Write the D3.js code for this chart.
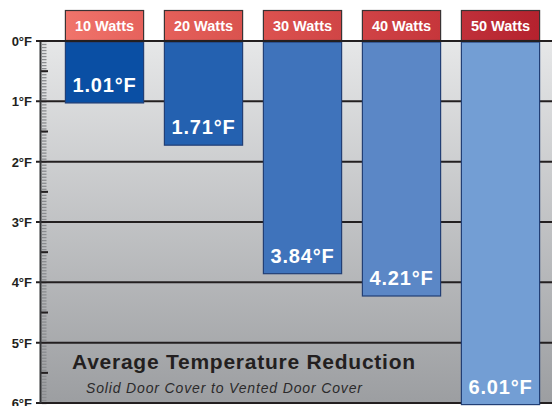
<!DOCTYPE html>
<html><head><meta charset="utf-8">
<script src="https://cdn.jsdelivr.net/npm/d3@7"></script>
<style>html,body{margin:0;padding:0;background:#fff;}svg{display:block;}</style>
</head><body>
<svg id="chart" width="552" height="406"></svg>
<script>
const categories = ["10 Watts", "20 Watts", "30 Watts", "40 Watts", "50 Watts"];
const values = [1.01, 1.71, 3.84, 4.21, 6.01];
const tickValues = [0, 1, 2, 3, 4, 5, 6];
const tickLabels = ["0°F", "1°F", "2°F", "3°F", "4°F", "5°F", "6°F"];
const title = "Average Temperature Reduction";
const subtitle = "Solid Door Cover to Vented Door Cover";

const barColors = ["#0a4fa4", "#2461b0", "#3f73bb", "#5b87c6", "#739ed4"];
const headerColorsL = ["#f0746b", "#e5605a", "#dc524f", "#d04346", "#c0303a"];
const headerColorsR = ["#e6625c", "#da534f", "#d04546", "#c6363b", "#b5222e"];

const W = 552, H = 406;
const svg = d3.select("#chart");
const defs = svg.append("defs");

const x = d3.scaleBand().domain(categories).range([55, 550]).paddingInner(0.2).paddingOuter(0.1);
const y = d3.scaleLinear().domain([0, 6]).range([41, 403]);
const plotLeft = 40, plotRight = W;

const bg = defs.append("linearGradient").attr("id", "bg").attr("x1", 0).attr("y1", 0).attr("x2", 0).attr("y2", 1);
bg.append("stop").attr("offset", "0%").attr("stop-color", "#e6e7e8");
bg.append("stop").attr("offset", "100%").attr("stop-color", "#9c9ea1");

svg.append("rect").attr("x", plotLeft).attr("y", y(0)).attr("width", plotRight - plotLeft)
  .attr("height", y(6) - y(0)).attr("fill", "url(#bg)");

const minor = d3.range(0, 6.0001, 0.05);
svg.append("g").selectAll("line").data(minor).join("line")
  .attr("x1", 42).attr("x2", 46.5)
  .attr("y1", d => y(d) + 0.5).attr("y2", d => y(d) + 0.5)
  .attr("stroke", "#8a8c8f").attr("stroke-width", 1.3);

svg.append("g").selectAll("line").data(d3.range(0.5, 6, 1)).join("line")
  .attr("x1", 40).attr("x2", 48)
  .attr("y1", d => y(d)).attr("y2", d => y(d))
  .attr("stroke", "#231f20").attr("stroke-width", 2);

svg.append("g").selectAll("line").data(tickValues).join("line")
  .attr("x1", 36).attr("x2", plotRight)
  .attr("y1", d => y(d)).attr("y2", d => y(d))
  .attr("stroke", "#231f20").attr("stroke-width", 2);

svg.append("line").attr("x1", 40.5).attr("x2", 40.5).attr("y1", y(0)).attr("y2", y(6))
  .attr("stroke", "#333436").attr("stroke-width", 2);

svg.append("g").selectAll("text").data(tickValues).join("text")
  .attr("x", 32).attr("y", d => y(d) + 5)
  .attr("text-anchor", "end")
  .attr("font-family", "Liberation Sans, Arial, sans-serif")
  .attr("font-weight", "bold").attr("font-size", 13).attr("fill", "#231f20")
  .text((d, i) => tickLabels[i]);

svg.append("text").attr("x", 72).attr("y", 369)
  .attr("font-family", "Liberation Sans, Arial, sans-serif")
  .attr("font-weight", "bold").attr("font-size", 21).attr("letter-spacing", 0.75)
  .attr("fill", "#231f20").text(title);
svg.append("text").attr("x", 86).attr("y", 393)
  .attr("font-family", "Liberation Sans, Arial, sans-serif")
  .attr("font-style", "italic").attr("font-size", 14).attr("letter-spacing", 0.85)
  .attr("fill", "#2b2a2b").text(subtitle);

const bars = svg.append("g");
bars.selectAll("rect").data(values).join("rect")
  .attr("x", (d, i) => x(categories[i]) + 0.5)
  .attr("y", y(0) + 1)
  .attr("width", x.bandwidth() - 1)
  .attr("height", d => y(d) - y(0))
  .attr("fill", (d, i) => barColors[i])
  .attr("stroke", "#223f75").attr("stroke-width", 1.2);

bars.selectAll("text").data(values).join("text")
  .attr("x", (d, i) => x(categories[i]) + x.bandwidth() / 2)
  .attr("y", d => Math.min(y(d), 404) - 10)
  .attr("text-anchor", "middle")
  .attr("font-family", "Liberation Sans, Arial, sans-serif")
  .attr("font-weight", "bold").attr("font-size", 20).attr("letter-spacing", 0.8)
  .attr("fill", "#ffffff")
  .text(d => d3.format(".2f")(d) + "°F");

categories.forEach((c, i) => {
  const g = defs.append("linearGradient").attr("id", "hg" + i).attr("x1", 0).attr("x2", 1).attr("y1", 0).attr("y2", 0);
  g.append("stop").attr("offset", "0%").attr("stop-color", headerColorsL[i]);
  g.append("stop").attr("offset", "100%").attr("stop-color", headerColorsR[i]);
});
const hdr = svg.append("g");
hdr.selectAll("rect").data(categories).join("rect")
  .attr("x", d => x(d) + 0.5).attr("y", 10.5)
  .attr("width", x.bandwidth() - 1).attr("height", y(0) - 11)
  .attr("fill", (d, i) => `url(#hg${i})`)
  .attr("stroke", "#3a3334").attr("stroke-width", 1.2);
hdr.selectAll("text").data(categories).join("text")
  .attr("x", d => x(d) + x.bandwidth() / 2).attr("y", 31)
  .attr("text-anchor", "middle")
  .attr("font-family", "Liberation Sans, Arial, sans-serif")
  .attr("font-weight", "bold").attr("font-size", 14.5)
  .attr("fill", "#ffffff").text(d => d);

svg.append("line").attr("x1", 36).attr("x2", plotRight).attr("y1", y(0)).attr("y2", y(0))
  .attr("stroke", "#231f20").attr("stroke-width", 2);
</script>
</body></html>
